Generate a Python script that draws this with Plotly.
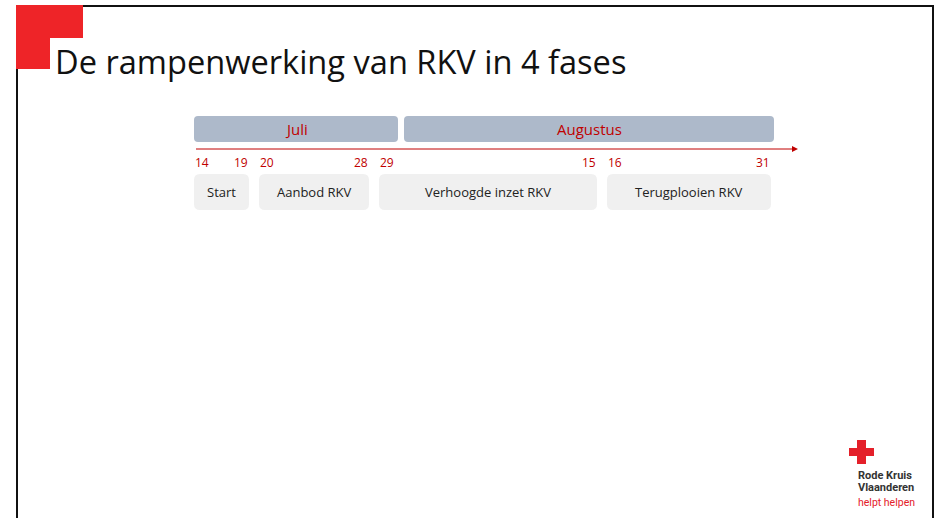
import plotly.graph_objects as go

# ---- data ----
title_text = "De rampenwerking van RKV in 4 fases"
months = ["Juli", "Augustus"]
month_start = [194, 404]
month_end = [398, 774]

phases = ["Start", "Aanbod RKV", "Verhoogde inzet RKV", "Terugplooien RKV"]
phase_start = [194, 259, 379, 607]
phase_end = [249, 369, 597, 771]
day_first = ["14", "20", "29", "16"]
day_last = ["19", "28", "15", "31"]

logo_lines = ["Rode Kruis", "Vlaanderen"]
logo_tagline = "helpt helpen"

RED = "#C00000"
BRIGHT = "#EE2428"

fig = go.Figure()

def rrect(x0, y0, x1, y1, r):
    return (f"M{x0+r},{y0} L{x1-r},{y0} Q{x1},{y0} {x1},{y0+r} "
            f"L{x1},{y1-r} Q{x1},{y1} {x1-r},{y1} L{x0+r},{y1} "
            f"Q{x0},{y1} {x0},{y1-r} L{x0},{y0+r} Q{x0},{y0} {x0+r},{y0} Z")

shapes = []
# frame
shapes.append(dict(type="rect", x0=17, y0=6, x1=933, y1=560,
                   line=dict(color="#111111", width=2), fillcolor="rgba(0,0,0,0)"))
# red L corner
shapes.append(dict(type="rect", x0=16, y0=5, x1=83, y1=38,
                   line=dict(width=0), fillcolor=BRIGHT))
shapes.append(dict(type="rect", x0=16, y0=37, x1=50, y1=69,
                   line=dict(width=0), fillcolor=BRIGHT))

# month bars
for s, e in zip(month_start, month_end):
    shapes.append(dict(type="path", path=rrect(s, 116, e, 142, 4),
                       line=dict(width=0), fillcolor="#ADB9CA"))
# axis line
shapes.append(dict(type="line", x0=196, y0=149, x1=792, y1=149,
                   line=dict(color=RED, width=1)))
shapes.append(dict(type="path", path="M792,146 L798,149 L792,152 Z",
                   line=dict(width=0), fillcolor=RED))
# phase boxes
for s, e in zip(phase_start, phase_end):
    shapes.append(dict(type="path", path=rrect(s, 174, e, 210, 6),
                       line=dict(width=0), fillcolor="#F0F0F0"))
# logo cross
shapes.append(dict(type="rect", x0=857, y0=440, x1=866, y1=464,
                   line=dict(width=0), fillcolor="#E4202A"))
shapes.append(dict(type="rect", x0=849, y0=448, x1=874, y1=456,
                   line=dict(width=0), fillcolor="#E4202A"))

fig.update_layout(shapes=shapes)

ann = []
ann.append(dict(x=53, y=61, text=title_text, showarrow=False, xanchor="left",
                yanchor="middle", font=dict(family="Open Sans", size=32.6, color="#111111")))
for m, s, e in zip(months, month_start, month_end):
    ann.append(dict(x=(s + e) / 2, y=129, text=m, showarrow=False,
                    font=dict(family="Open Sans", size=15, color=RED)))
for ph, s, e, a, b in zip(phases, phase_start, phase_end, day_first, day_last):
    ann.append(dict(x=(s + e) / 2, y=192, text=ph, showarrow=False,
                    font=dict(family="Open Sans", size=13, color="#222222")))
    ann.append(dict(x=s - 1, y=162, text=a, showarrow=False, xanchor="left",
                    font=dict(family="Open Sans", size=12, color=RED)))
    ann.append(dict(x=e + 1, y=162, text=b, showarrow=False, xanchor="right",
                    font=dict(family="Open Sans", size=12, color=RED)))
# logo text
for i, line in enumerate(logo_lines):
    ann.append(dict(x=856, y=475 + 12 * i, text=f"<b>{line}</b>", showarrow=False,
                    xanchor="left", yanchor="middle",
                    font=dict(family="Roboto", size=11, color="#333333")))
ann.append(dict(x=856, y=502, text=logo_tagline, showarrow=False,
                xanchor="left", yanchor="middle",
                font=dict(family="Roboto", size=10.5, color="#E4202A")))
fig.update_layout(annotations=ann)

fig.update_layout(
    width=937, height=518, margin=dict(l=0, r=0, t=0, b=0),
    paper_bgcolor="white", plot_bgcolor="white", showlegend=False,
    xaxis=dict(range=[0, 937], visible=False, fixedrange=True),
    yaxis=dict(range=[518, 0], visible=False, fixedrange=True),
)
fig.write_html(
    "out.html",
    config={"displayModeBar": False, "staticPlot": True},
    post_script="document.body.style.margin='0';document.body.style.overflow='hidden';",
)
